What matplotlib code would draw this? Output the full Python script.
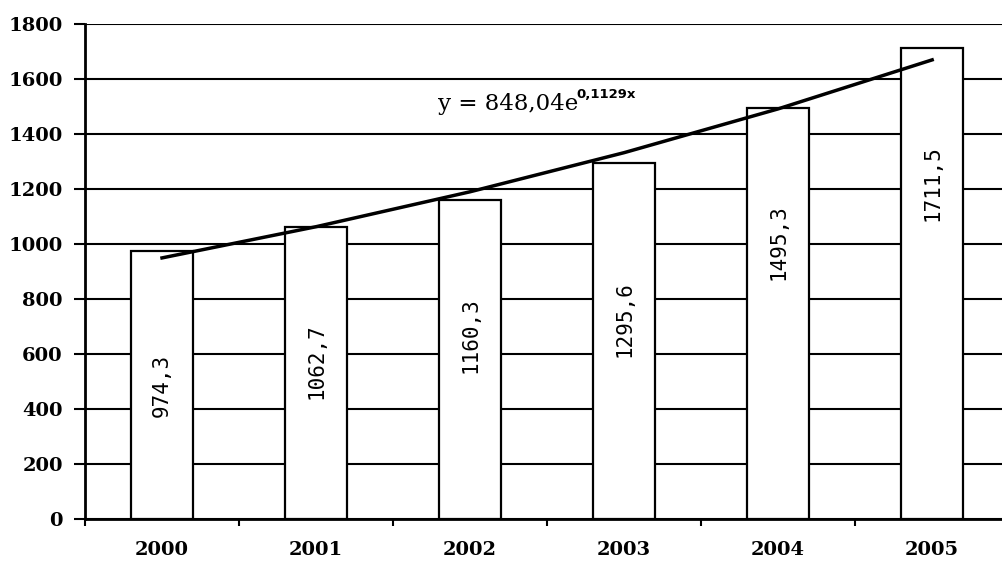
import matplotlib.pyplot as plt
import numpy as np

years = ['2000', '2001', '2002', '2003', '2004', '2005']
values = [974.3, 1062.7, 1160.3, 1295.6, 1495.3, 1711.5]
labels = ['974,3', '1062,7', '1160,3', '1295,6', '1495,3', '1711,5']
trend_a = 848.04
trend_b = 0.1129

fig = plt.figure(figsize=(10.03, 5.67), dpi=100)
ax = fig.add_axes([85 / 1003, 48 / 567, 918 / 1003, 495 / 567])

x = np.arange(len(years))
ax.bar(x, values, width=0.4, color='white', edgecolor='black', linewidth=1.6, zorder=3)

# trend line
t = x + 1
ax.plot(x, trend_a * np.exp(trend_b * t), color='black', linewidth=2.5, zorder=4)
eq = ax.text(1.79, 1487, 'y = 848,04e', fontsize=16.5, family='DejaVu Serif',
             va='baseline', zorder=5)
fig.canvas.draw()
bb = eq.get_window_extent()
ax.annotate('0,1129x', xy=(bb.x1, bb.y0), xycoords='figure pixels',
            xytext=(1, 12), textcoords='offset points',
            fontsize=9.5, family='DejaVu Sans', weight='bold', va='baseline', zorder=5)

for i in range(len(values)):
    yl = values[i] - 490
    if i == 3:
        yl = values[i] - 570
    ax.text(x[i], yl, labels[i], rotation=90, ha='center', va='center',
            fontsize=15, family='DejaVu Sans Mono', zorder=5)

ax.set_xlim(-0.5, 5.46)
ax.set_ylim(0, 1800)
ax.set_yticks(np.arange(0, 1801, 200))
ax.yaxis.grid(True, color='black', linewidth=1.5)
ax.set_axisbelow(True)

ax.set_xticks(np.arange(-0.5, 5.5, 1))
ax.set_xticklabels([])
ax.set_xticks(x, minor=True)
ax.set_xticklabels(years, minor=True)
ax.tick_params(axis='x', which='major', direction='out', length=5, width=1.5)
ax.tick_params(axis='x', which='minor', length=0, pad=16)
ax.tick_params(axis='y', direction='out', length=8, width=1.5, pad=8)

for lab in ax.get_xticklabels(minor=True) + ax.get_yticklabels():
    lab.set_family('DejaVu Serif')
    lab.set_weight('bold')
    lab.set_fontsize(14)

ax.spines['top'].set_visible(False)
ax.spines['right'].set_visible(False)
ax.spines['left'].set_linewidth(2)
ax.spines['bottom'].set_linewidth(2)

fig.savefig('out.png', dpi=100)
